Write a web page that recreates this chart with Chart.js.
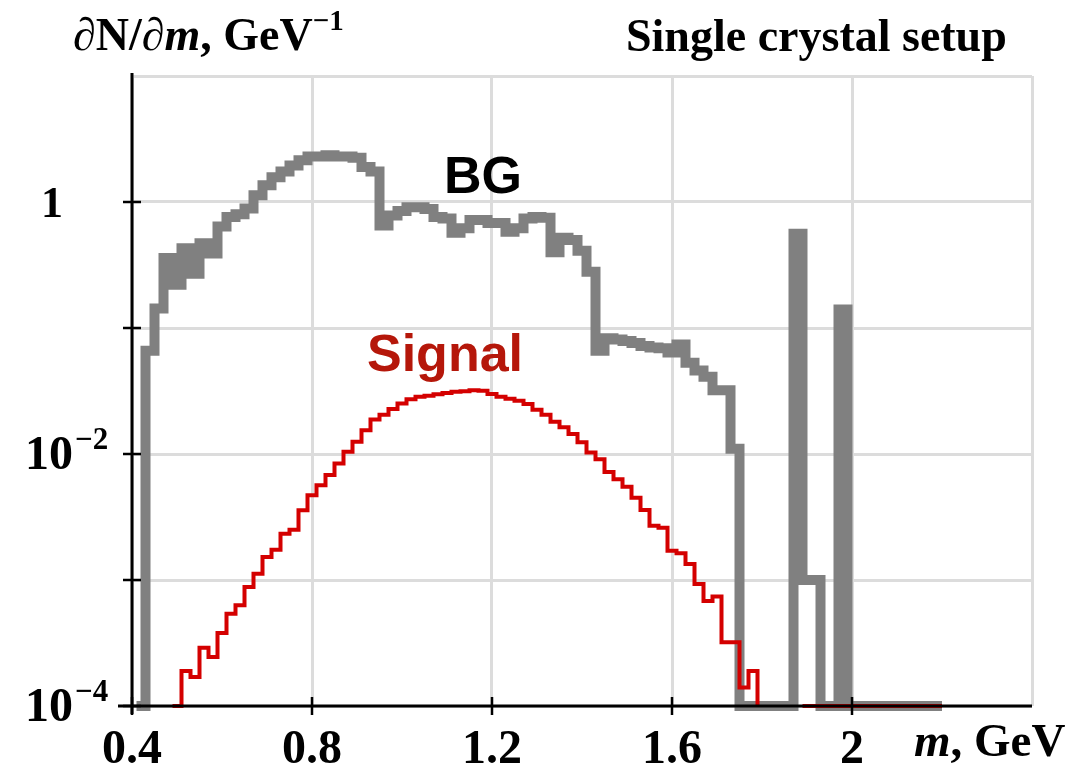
<!DOCTYPE html>
<html>
<head>
<meta charset="utf-8">
<script src="https://cdn.jsdelivr.net/npm/chart.js@4.4.0/dist/chart.umd.min.js"></script>
<style>
  html, body { margin: 0; padding: 0; background: #fff; }
  #chart { display: block; }
</style>
</head>
<body>
<canvas id="chart" width="1072" height="769"></canvas>
<script>
// dN/dm histograms, single crystal setup (bins start at left edge, last point closes the histogram)
const bgMass = [0.41, 0.43, 0.45, 0.47, 0.48, 0.49, 0.50, 0.51, 0.52, 0.53, 0.54, 0.55, 0.56, 0.57, 0.58,
  0.59, 0.61, 0.63, 0.65, 0.67, 0.69, 0.71, 0.73, 0.75, 0.77, 0.79, 0.81, 0.83, 0.85, 0.87, 0.89, 0.91, 0.93,
  0.95, 0.97, 0.99, 1.01, 1.03, 1.05, 1.07, 1.09, 1.11, 1.13, 1.15, 1.17, 1.19, 1.21, 1.23, 1.25, 1.27, 1.29,
  1.31, 1.33, 1.35, 1.37, 1.39, 1.41, 1.43, 1.45, 1.47, 1.49, 1.51, 1.53, 1.55, 1.57, 1.59, 1.61, 1.63, 1.65,
  1.67, 1.69, 1.71, 1.73, 1.75, 1.87, 1.89, 1.93, 1.97, 1.99, 2.20];
const bgDensity = [1e-4, 0.066, 0.143, 0.36, 0.22, 0.36, 0.22, 0.43, 0.27, 0.43, 0.27, 0.47, 0.39, 0.47, 0.39,
  0.64, 0.76, 0.80, 0.89, 1.13, 1.36, 1.57, 1.75, 1.95, 2.14, 2.3, 2.3, 2.35, 2.3, 2.3, 2.25, 1.9, 1.75,
  0.65, 0.78, 0.85, 0.91, 0.91, 0.88, 0.76, 0.74, 0.57, 0.62, 0.72, 0.72, 0.68, 0.68, 0.58, 0.62, 0.74, 0.76,
  0.75, 0.40, 0.52, 0.50, 0.41, 0.28, 0.066, 0.083, 0.081, 0.079, 0.076, 0.072, 0.070, 0.069, 0.064, 0.074, 0.053, 0.046,
  0.041, 0.032, 0.032, 0.011, 1e-4, 0.56, 0.001, 1e-4, 0.14, 1e-4, 1e-4];

const sigMass = [0.49, 0.51, 0.53, 0.55, 0.57, 0.59, 0.61, 0.63, 0.65, 0.67, 0.69, 0.71, 0.73, 0.75, 0.77, 0.79,
  0.81, 0.83, 0.85, 0.87, 0.89, 0.91, 0.93, 0.95, 0.97, 0.99, 1.01, 1.03, 1.05, 1.07, 1.09, 1.11, 1.13, 1.15,
  1.17, 1.19, 1.21, 1.23, 1.25, 1.27, 1.29, 1.31, 1.33, 1.35, 1.37, 1.39, 1.41, 1.43, 1.45, 1.47, 1.49, 1.51,
  1.53, 1.55, 1.57, 1.59, 1.61, 1.63, 1.65, 1.67, 1.69, 1.71, 1.73, 1.75, 1.77, 1.79, 1.81, 1.89, 2.20];
const sigDensity = [1e-4, 1.9e-4, 1.7e-4, 2.9e-4, 2.45e-4, 3.8e-4, 5.4e-4, 6.3e-4, 8.8e-4, 1.12e-3, 1.52e-3, 1.74e-3,
  2.33e-3, 2.51e-3, 3.57e-3, 4.7e-3, 5.65e-3, 6.8e-3, 8.4e-3, 0.0104, 0.0125, 0.0154, 0.0188, 0.0205, 0.0228,
  0.0252, 0.0272, 0.0285, 0.0290, 0.0298, 0.0305, 0.0312, 0.0315, 0.0320, 0.0318, 0.0300, 0.0285, 0.0275, 0.0265,
  0.0249, 0.0225, 0.0205, 0.0180, 0.0163, 0.0144, 0.0124, 0.0103, 0.0091, 0.0072, 0.0063, 0.0055, 0.0045, 0.0036,
  0.0027, 0.0026, 0.00171, 0.00163, 0.00134, 0.00093, 0.00068, 0.00074, 0.00032, 0.00032, 1.4e-4, 1.9e-4, 1e-4,
  null, 1e-4, 1e-4];

const massTicks = [0.4, 0.8, 1.2, 1.6, 2.0, 2.4];
const massLabels = ['0.4', '0.8', '1.2', '1.6', '2', ''];
const decadeTicks = [1e-4, 1e-3, 1e-2, 1e-1, 1, 10];
const yLabelValues = [1, 1e-2, 1e-4];
const yLabelBase = ['1', '10', '10'];
const yLabelExp = ['', '−2', '−4'];

const SERIF = '"Liberation Serif", "Times New Roman", serif';
const SANS = '"Liberation Sans", Arial, sans-serif';
const GRID = '#dcdcdc';

// draws a run of text pieces one after another, each with its own font and vertical shift
function drawRun(ctx, pieces, x, y) {
  let cx = x;
  pieces.forEach(p => {
    ctx.font = p.font;
    ctx.fillText(p.t, cx, y + (p.dy || 0));
    cx += ctx.measureText(p.t).width + (p.gap || 0);
  });
}

const decor = {
  id: 'decor',
  afterDatasetsDraw(chart) {
    const { ctx, chartArea: a, scales: { x, y } } = chart;
    ctx.save();
    ctx.strokeStyle = '#000';
    ctx.lineCap = 'butt';
    // axes
    ctx.lineWidth = 3;
    ctx.beginPath();
    ctx.moveTo(a.left - 14, a.bottom); ctx.lineTo(a.right, a.bottom);
    ctx.moveTo(a.left, a.top - 3); ctx.lineTo(a.left, a.bottom + 8);
    ctx.stroke();
    // crossing tick marks
    ctx.lineWidth = 2.5;
    ctx.beginPath();
    decadeTicks.filter(v => v <= 1).forEach(v => {
      const py = y.getPixelForValue(v);
      ctx.moveTo(a.left - 9, py); ctx.lineTo(a.left + 9, py);
    });
    massTicks.filter(v => v < 2.4).forEach(v => {
      const px = x.getPixelForValue(v);
      ctx.moveTo(px, a.bottom - 9); ctx.lineTo(px, a.bottom + 9);
    });
    ctx.stroke();
    ctx.restore();
  },
  afterDraw(chart) {
    const { ctx, scales: { x, y } } = chart;
    ctx.save();
    ctx.fillStyle = '#000';
    ctx.textBaseline = 'alphabetic';

    // x tick labels
    ctx.font = 'bold 48px ' + SERIF;
    ctx.textAlign = 'center';
    massTicks.forEach((v, i) => {
      if (massLabels[i]) ctx.fillText(massLabels[i], x.getPixelForValue(v), 763);
    });

    // y tick labels
    ctx.textAlign = 'left';
    yLabelValues.forEach((v, i) => {
      const py = y.getPixelForValue(v) + 15;
      const baseFont = (yLabelExp[i] ? 'bold 48px ' : 'bold 44px ') + SERIF;
      ctx.font = baseFont;
      const w = ctx.measureText(yLabelBase[i]).width;
      const right = yLabelExp[i] ? 73 : 63;
      drawRun(ctx, [
        { t: yLabelBase[i], font: baseFont, gap: 2 },
        { t: yLabelExp[i], font: 'bold 31px ' + SERIF, dy: -20 }
      ], right - w, py);
    });

    // axis titles
    drawRun(ctx, [
      { t: '∂', font: 'bold 46px ' + SERIF },
      { t: 'N', font: 'bold 46px ' + SERIF },
      { t: '/∂', font: 'bold 46px ' + SERIF },
      { t: 'm', font: 'italic bold 46px ' + SERIF },
      { t: ', GeV', font: 'bold 46px ' + SERIF },
      { t: '−1', font: 'bold 29px ' + SERIF, dy: -20 }
    ], 73, 50);
    drawRun(ctx, [{ t: 'Single crystal setup', font: 'bold 46px ' + SERIF }], 626, 51);
    drawRun(ctx, [
      { t: 'm', font: 'italic bold 47px ' + SERIF },
      { t: ', GeV', font: 'bold 47px ' + SERIF }
    ], 914, 756);

    // curve labels
    ctx.textAlign = 'center';
    ctx.font = 'bold 52px ' + SANS;
    ctx.fillStyle = '#000';
    ctx.fillText('BG', 483, 193);
    ctx.fillStyle = '#b5170a';
    ctx.fillText('Signal', 445, 371);
    ctx.restore();
  }
};

new Chart(document.getElementById('chart'), {
  type: 'line',
  data: {
    datasets: [
      {
        label: 'Signal',
        data: sigMass.map((m, i) => ({ x: m, y: sigDensity[i] })),
        borderColor: '#d40000',
        borderWidth: 4,
        stepped: 'before',
        spanGaps: false,
        clip: 3
      },
      {
        label: 'BG',
        data: bgMass.map((m, i) => ({ x: m, y: bgDensity[i] })),
        borderColor: '#808080',
        borderWidth: 10,
        stepped: 'before',
        clip: 6
      }
    ]
  },
  options: {
    responsive: false,
    animation: false,
    devicePixelRatio: 1,
    layout: { padding: { left: 0, top: 76, right: 40, bottom: 0 } },
    elements: {
      point: { radius: 0, hoverRadius: 0 },
      line: { fill: false, tension: 0, borderCapStyle: 'butt', borderJoinStyle: 'miter' }
    },
    plugins: { legend: { display: false }, tooltip: { enabled: false }, title: { display: false } },
    events: [],
    scales: {
      x: {
        type: 'linear',
        min: 0.4,
        max: 2.4,
        afterBuildTicks: s => { s.ticks = massTicks.map(v => ({ value: v })); },
        afterFit: s => { s.height = 63; },
        ticks: { display: false },
        grid: { color: GRID, lineWidth: 3, drawTicks: false },
        border: { display: false }
      },
      y: {
        type: 'logarithmic',
        min: 1e-4,
        max: 10,
        afterBuildTicks: s => { s.ticks = decadeTicks.map(v => ({ value: v })); },
        afterFit: s => { s.width = 132; },
        ticks: { display: false },
        grid: { color: GRID, lineWidth: 3, drawTicks: false },
        border: { display: false }
      }
    }
  },
  plugins: [decor]
});
</script>
</body>
</html>
